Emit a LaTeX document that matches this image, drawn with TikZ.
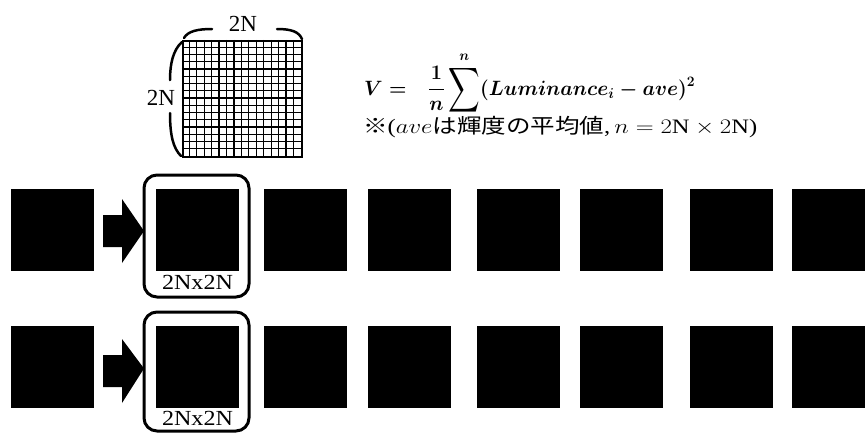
\documentclass[tikz,border=0pt]{standalone}
\usepackage{amsmath}
\usepackage{graphicx}
\usepackage{fontspec}
\setmainfont{Liberation Serif}
\newfontfamily\jp{Noto Sans CJK JP}
\usetikzlibrary{calc}
\newsavebox\formbox
\newsavebox\notebox
\newsavebox\labbox
\begin{document}
\sbox\formbox{\fontsize{22}{26}\selectfont\boldmath$\displaystyle V =\mkern12mu \frac{1}{n}\mathop{\vcenter{\hbox{\scalebox{1.1}[1.5]{$\displaystyle\sum$}}}}\limits^{n}(Luminance_i - ave)^2$}%
\sbox\notebox{\fontsize{20.5}{24}\selectfont{\jp ※}($ave${\jp は輝度の平均値},$\mkern3mu n = 2\mathrm{N}\times 2\mathrm{N}$)}%
\sbox\labbox{\scalebox{1.12}[1]{\fontsize{21.5}{22}\selectfont 2Nx2N}}%
\begin{tikzpicture}[x=1pt,y=-1pt,
  sq/.style={fill=black,draw=none,minimum width=83pt,minimum height=82pt,inner sep=0pt,outer sep=0pt},
  selbox/.style={draw=black,line width=3pt,rounded corners=13pt},
  blockarrow/.style={fill=black},
  lbl/.style={font=\fontsize{23}{23}\selectfont,inner sep=0pt},
  brace/.style={line width=2.5pt,line cap=round},
  gridline/.style={line width=1.3pt},
  eqtext/.style={inner sep=0pt}]
\useasboundingbox (0,0) rectangle (865,432);

% grid
\node[draw,line width=2.2pt,minimum width=119pt,minimum height=116pt,inner sep=0pt] (grid) at (242.5,99) {};
\foreach \i in {1,...,15}{
  \draw[gridline] ($(grid.north west)+({\i*119/16},0)$) -- ($(grid.south west)+({\i*119/16},0)$);
  \draw[gridline] ($(grid.north west)+(0,{\i*116/16})$) -- ($(grid.north east)+(0,{\i*116/16})$);
}
% braces
\node[lbl] (topN) at (243,24) {2N};
\node[lbl] (leftN) at (161,98) {2N};
\draw[brace] (184,38) .. controls (188,31) and (198,29) .. (212,29);
\draw[brace] (277,29) .. controls (292,29) and (299,32) .. (302,39);
\draw[brace] (182,42) .. controls (173,50) and (170,64) .. (170,80);
\draw[brace] (170,113) .. controls (170,135) and (173,148) .. (181,156);

% formula
\node[eqtext,anchor=base west] (formula) at (364,95) {\resizebox{331pt}{\height}{\usebox\formbox}};
\node[eqtext,anchor=base west] (note) at (363,133) {\resizebox{394pt}{\height}{\usebox\notebox}};

% rows
\foreach \r/\yc/\bt/\bb/\ly/\ah/\ab in {1/229.5/175/297/282/199/215, 2/367/312/431/418/339/355}{
  \node[sq] (r\r s0) at (52.5,\yc) {};
  \node[sq] (r\r s1) at (197.5,\yc) {};
  \node[sq] (r\r s2) at (305,\yc) {};
  \node[sq] (r\r s3) at (409,\yc) {};
  \node[sq] (r\r s4) at (518,\yc) {};
  \node[sq] (r\r s5) at (621.5,\yc) {};
  \node[sq] (r\r s6) at (731.5,\yc) {};
  \node[sq] (r\r s7) at (833.5,\yc) {};
  \draw[selbox] (144,\bt) rectangle (249,\bb);
  \node[inner sep=0pt] (r\r lab) at (197.5,\ly) {\usebox\labbox};
  \fill[blockarrow] (103,\ab) -- (122,\ab) -- (122,\ah) -- (144,\yc+1.5) -- (122,\ah+64) -- (122,\ab+32) -- (103,\ab+32) -- cycle;
}
\end{tikzpicture}
\end{document}
